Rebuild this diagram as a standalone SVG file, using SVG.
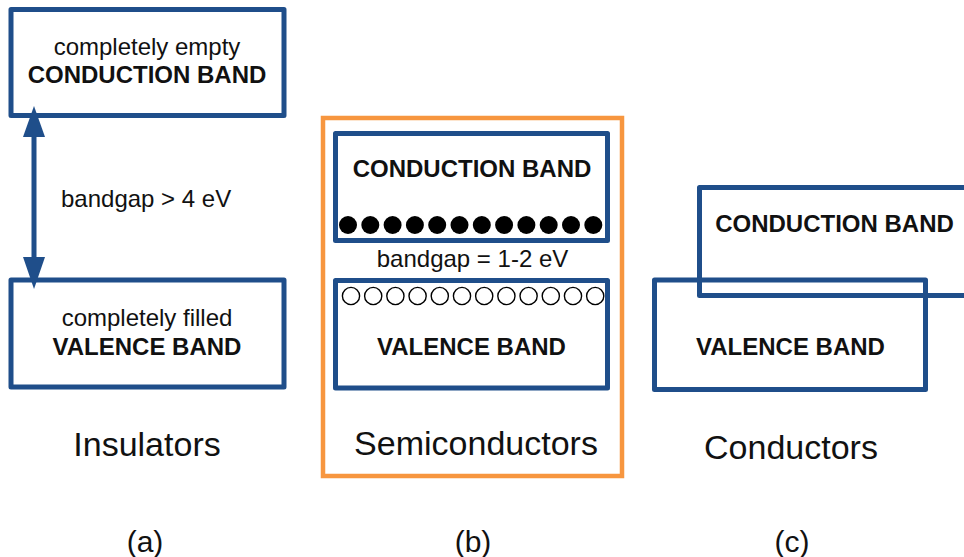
<svg xmlns="http://www.w3.org/2000/svg" width="964" height="557" viewBox="0 0 964 557">
<style>
.box{fill:none;stroke:#1F4E8A;stroke-width:5;stroke-linejoin:round}
.frame{fill:none;stroke:#F7963F;stroke-width:4.5}
text{font-family:"Liberation Sans",Arial,sans-serif;fill:#111;text-anchor:middle}
.s{font-size:24px}
.b{font-size:24px;font-weight:bold}
.l{font-size:34px}
.c{font-size:30px}
.e{fill:#000}
.h{fill:#fff;stroke:#000;stroke-width:1.4}
</style>
<rect width="964" height="557" fill="#fff"/>
<g id="insulator-cb">
<rect class="box" x="11" y="9.5" width="273" height="106"/>
<text class="s" x="147" y="55">completely empty</text>
<text class="b" x="147" y="83">CONDUCTION BAND</text>
</g>
<g id="insulator-vb">
<rect class="box" x="11" y="280" width="273" height="107"/>
<text class="s" x="147" y="326">completely filled</text>
<text class="b" x="147" y="355">VALENCE BAND</text>
</g>
<g id="connectors">
<line x1="34" y1="132" x2="34" y2="262" stroke="#1F4E8A" stroke-width="5"/>
<polygon points="34,106 23,137 45,137" fill="#1F4E8A"/>
<polygon points="34,289 23,257 45,257" fill="#1F4E8A"/>
</g>
<text class="s" x="61" y="207" style="text-anchor:start">bandgap &gt; 4 eV</text>
<text class="l" x="147" y="456">Insulators</text>
<g id="semiconductor">
<rect class="frame" x="323" y="118" width="299" height="358"/>
<g id="semi-cb">
<rect class="box" x="335.5" y="133.5" width="272" height="107"/>
<text class="b" x="472" y="177">CONDUCTION BAND</text>
<g class="e">
<circle cx="348" cy="225" r="9"/><circle cx="370.3" cy="225" r="9"/><circle cx="392.6" cy="225" r="9"/><circle cx="414.9" cy="225" r="9"/><circle cx="437.2" cy="225" r="9"/><circle cx="459.5" cy="225" r="9"/><circle cx="481.8" cy="225" r="9"/><circle cx="504.1" cy="225" r="9"/><circle cx="526.4" cy="225" r="9"/><circle cx="548.7" cy="225" r="9"/><circle cx="571" cy="225" r="9"/><circle cx="593.3" cy="225" r="9"/>
</g>
</g>
<text class="s" x="472.5" y="267">bandgap = 1-2 eV</text>
<g id="semi-vb">
<rect class="box" x="335.5" y="280.5" width="272" height="107.5"/>
<g class="h">
<circle cx="351" cy="296" r="8.6"/><circle cx="373.2" cy="296" r="8.6"/><circle cx="395.4" cy="296" r="8.6"/><circle cx="417.6" cy="296" r="8.6"/><circle cx="439.8" cy="296" r="8.6"/><circle cx="462" cy="296" r="8.6"/><circle cx="484.2" cy="296" r="8.6"/><circle cx="506.4" cy="296" r="8.6"/><circle cx="528.6" cy="296" r="8.6"/><circle cx="550.8" cy="296" r="8.6"/><circle cx="573" cy="296" r="8.6"/><circle cx="595.2" cy="296" r="8.6"/>
</g>
<text class="b" x="471.5" y="355">VALENCE BAND</text>
</g>
<text class="l" x="476" y="455">Semiconductors</text>
</g>
<g id="conductor-cb">
<rect class="box" x="699.5" y="187.5" width="280" height="108"/>
<text class="b" x="834.5" y="232">CONDUCTION BAND</text>
</g>
<g id="conductor-vb">
<rect class="box" x="654.5" y="280" width="271" height="109.5"/>
<text class="b" x="790.5" y="355">VALENCE BAND</text>
</g>
<text class="l" x="791" y="459">Conductors</text>
<text class="c" x="145" y="552">(a)</text>
<text class="c" x="473" y="552">(b)</text>
<text class="c" x="792" y="552">(c)</text>
</svg>
